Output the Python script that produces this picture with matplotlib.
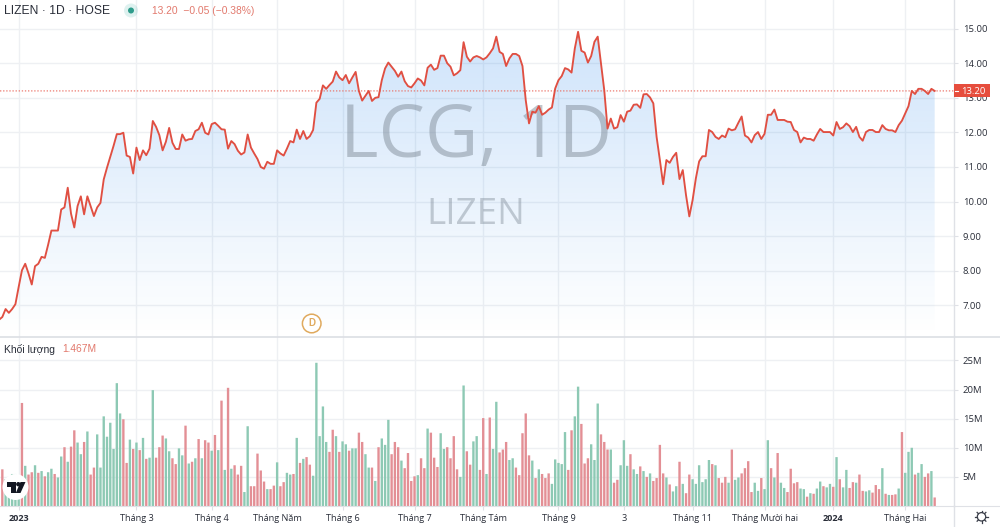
import numpy as np
import matplotlib
matplotlib.use("Agg")
import matplotlib.pyplot as plt
from matplotlib.patches import Circle, Polygon, Rectangle
from matplotlib.ticker import FuncFormatter

title_left = "LIZEN · 1D · HOSE"
title_right = "13.20  −0.05 (−0.38%)"
pane_title = "Khối lượng"
pane_value = "1.467M"
watermark_main = "LCG, 1D"
watermark_sub = "LIZEN"
last_price = 13.20

tick_index = [5, 41, 64, 84, 104, 126, 147, 170, 190, 211, 233, 254, 276]
tick_labels = ["2023", "Tháng 3", "Tháng 4", "Tháng Năm", "Tháng 6", "Tháng 7", "Tháng Tám",
               "Tháng 9", "3", "Tháng 11", "Tháng Mười hai", "2024", "Tháng Hai"]
bold_labels = ["2023", "2024"]

price_ticks = [7, 8, 9, 10, 11, 12, 13, 14, 15]
volume_ticks = [5, 10, 15, 20, 25]

# first value sits one session left of the first volume bar
price = [6.58,
 6.66, 6.89, 6.78, 6.89, 7.03, 7.53, 8.01, 8.20, 7.92, 7.60,
 8.13, 8.20, 8.40, 8.37, 8.75, 9.16, 9.16, 9.16, 9.77, 9.83,
 10.40, 9.65, 9.25, 9.87, 10.15, 9.63, 10.15, 9.87, 9.58, 9.83,
 9.96, 10.64, 10.98, 11.29, 11.61, 11.95, 11.95, 11.99, 11.33, 11.29,
 10.81, 11.56, 11.20, 11.48, 11.34, 11.53, 12.33, 12.16, 11.92, 11.48,
 11.73, 12.13, 11.70, 11.52, 11.52, 11.94, 11.76, 11.80, 11.81, 12.04,
 12.09, 12.28, 11.99, 11.94, 12.24, 12.28, 12.19, 12.09, 12.08, 11.53,
 11.75, 11.66, 11.47, 11.36, 11.42, 11.94, 11.56, 11.39, 11.23, 11.00,
 10.95, 11.15, 11.09, 11.09, 11.48, 11.39, 11.33, 11.53, 11.75, 11.71,
 12.08, 11.81, 12.04, 11.81, 11.89, 12.07, 12.86, 12.97, 13.36, 13.26,
 13.37, 13.47, 13.76, 13.59, 13.51, 13.66, 13.42, 13.59, 13.75, 13.20,
 12.92, 13.06, 13.20, 12.91, 13.00, 13.02, 13.51, 13.85, 14.02, 13.90,
 13.78, 13.61, 13.76, 13.48, 13.34, 13.30, 13.42, 13.56, 13.50, 13.36,
 13.87, 13.96, 13.81, 13.86, 14.22, 14.22, 14.00, 13.90, 13.65, 13.71,
 13.80, 14.61, 14.19, 14.05, 14.17, 14.21, 14.17, 14.11, 14.17, 14.29,
 14.43, 14.77, 14.33, 14.27, 13.92, 14.14, 14.27, 14.27, 14.21, 13.92,
 12.93, 12.26, 12.60, 12.57, 12.76, 12.51, 12.57, 12.66, 12.72, 13.27,
 13.51, 13.63, 13.86, 13.82, 13.73, 14.43, 14.91, 14.36, 14.31, 14.02,
 14.21, 14.62, 14.77, 14.00, 13.22, 12.11, 12.40, 12.11, 12.15, 12.50,
 12.31, 12.60, 12.63, 12.80, 12.81, 12.71, 13.10, 13.11, 13.01, 12.84,
 11.87, 11.20, 10.50, 11.20, 11.12, 11.29, 11.41, 10.65, 10.91, 10.18,
 9.57, 10.04, 10.67, 11.16, 11.31, 11.31, 12.07, 12.01, 11.87, 11.81,
 11.91, 11.86, 12.11, 12.06, 12.09, 12.28, 12.46, 11.91, 11.85, 11.71,
 11.92, 12.01, 11.81, 11.96, 12.51, 12.51, 12.66, 12.36, 12.36, 12.36,
 12.31, 12.30, 12.07, 12.01, 11.71, 11.85, 11.81, 11.81, 11.76, 11.94,
 12.10, 12.01, 12.01, 12.01, 11.91, 12.30, 12.10, 12.15, 12.26, 12.18,
 12.01, 12.16, 11.87, 11.76, 12.01, 12.07, 12.07, 12.01, 12.01, 12.21,
 12.10, 12.06, 12.06, 12.01, 12.21, 12.34, 12.55, 12.76, 13.20, 13.11,
 13.26, 13.26, 13.20, 13.11, 13.26, 13.20]

volume = [
 6.3, 4.6, 5.0, 5.5, 5.5, 5.0, 17.7, 6.9, 5.4, 5.8,
 7.0, 5.7, 6.0, 5.1, 5.8, 6.4, 5.5, 4.9, 8.5, 10.1,
 7.6, 10.2, 13.0, 10.9, 8.9, 11.0, 12.8, 5.4, 6.6, 12.3,
 6.6, 15.4, 11.9, 14.3, 9.8, 21.1, 15.9, 14.9, 7.4, 11.4,
 9.8, 10.9, 9.6, 11.7, 8.1, 8.3, 19.9, 8.3, 10.1, 12.1,
 11.6, 9.4, 8.2, 7.2, 9.9, 8.7, 13.8, 7.3, 7.6, 8.2,
 11.5, 8.2, 11.3, 10.9, 9.5, 12.2, 9.6, 18.1, 6.2, 20.3,
 6.4, 7.0, 5.4, 6.9, 2.4, 13.7, 3.4, 3.4, 9.0, 6.1,
 4.2, 2.9, 2.9, 3.5, 7.5, 3.4, 4.1, 5.7, 5.4, 5.5,
 11.7, 7.4, 8.1, 8.4, 7.1, 5.2, 24.6, 12.0, 17.1, 11.0,
 9.3, 13.1, 12.0, 9.3, 11.1, 10.6, 9.5, 9.9, 9.9, 12.6,
 11.0, 8.9, 6.6, 6.6, 4.3, 10.1, 11.6, 10.5, 14.8, 8.9,
 11.0, 10.1, 7.8, 6.5, 9.1, 4.3, 5.1, 5.3, 8.2, 6.5,
 13.3, 12.6, 8.3, 6.7, 12.5, 9.8, 10.1, 8.2, 12.0, 6.3,
 5.0, 20.7, 9.4, 7.1, 11.1, 12.0, 6.2, 15.1, 5.5, 15.2,
 9.8, 17.9, 9.2, 9.7, 11.0, 7.9, 8.2, 6.6, 5.3, 12.5,
 15.9, 8.7, 7.8, 4.8, 6.3, 5.5, 4.8, 5.6, 3.8, 8.0,
 7.4, 7.2, 12.7, 6.2, 13.0, 15.4, 20.5, 14.1, 7.3, 8.2,
 10.6, 7.9, 17.6, 12.3, 11.0, 9.7, 9.7, 4.0, 4.5, 7.0,
 11.3, 6.9, 8.9, 6.3, 5.5, 6.8, 6.0, 5.0, 5.6, 4.3,
 4.8, 10.5, 5.6, 4.9, 3.7, 2.5, 3.4, 7.6, 3.8, 2.2,
 5.4, 4.6, 3.8, 7.0, 4.1, 4.6, 7.9, 7.2, 7.0, 4.8,
 4.0, 5.0, 4.0, 9.7, 4.5, 4.9, 5.6, 6.5, 7.7, 2.4,
 4.0, 2.6, 4.8, 2.9, 11.3, 6.5, 4.9, 9.1, 4.0, 3.1,
 2.4, 6.4, 3.9, 4.1, 3.0, 2.9, 1.6, 2.2, 2.1, 3.0,
 4.2, 3.4, 3.2, 3.8, 3.3, 8.4, 4.6, 3.2, 6.2, 3.1,
 4.1, 4.0, 5.4, 2.6, 2.5, 2.7, 2.3, 3.6, 2.9, 6.5,
 2.1, 1.9, 1.9, 2.0, 3.0, 12.7, 5.7, 9.3, 10.0, 5.4,
 5.7, 7.2, 5.0, 5.6, 6.0, 1.467]

# one letter per bar: g = up session, r = down session
volume_direction = (
 "rgggggrgrr" "grgrggrggr" "grrggrgrrg" "gggggggrrg" "rgrgrggrrr"
 "ggrrggrgrg" "rgrrgrgrgr" "grrrggrrrr" "rgrrgrrggr" "grgrrggggg"
 "rrgrggrggr" "rggrgrgggr" "rrgrrrrgrr" "grrrggrrrr" "ggrrggrrgr"
 "ggrrrggrrr" "rrgrgrrrgg" "gggrrggrrr" "gggrrrgrrg" "ggrggrgrgr"
 "rrrgrggrgr" "rggggggrgr" "rrgrggrrrr" "ggrggrgrgg" "rrrrggrgrg"
 "grggrgrggr" "rgrrggrrrg" "rgrrgrgggr" "ggrrgr"
)

RED = "#e2796d"
LINE_RED = "#e04f42"
VOL_RED = "#e38f95"
VOL_GREEN = "#8dc9b4"
GRID = "#eef0f3"
BORDER = "#dfe1e6"
TEXT = "#2a2e39"
TICK_FONT = ["Open Sans", "DejaVu Sans"]

plt.rcParams["font.family"] = ["Liberation Sans", "DejaVu Sans"]

W, H = 1000, 527
fig = plt.figure(figsize=(W / 100, H / 100), dpi=100, facecolor="white")


def pane(top, bottom, right=954):
    return fig.add_axes([0, 1 - bottom / H, right / W, (bottom - top) / H])


X_LEFT = -0.71
X_RIGHT = X_LEFT + 954 / 3.2714
ax_p = pane(0, 336)
ax_v = pane(336, 506)

for ax in (ax_p, ax_v):
    ax.set_xlim(X_LEFT, X_RIGHT)
    ax.set_xticks(tick_index)
    ax.grid(True, color=GRID, lw=1.0, zorder=0)
    ax.set_axisbelow(True)
    for side in ("top", "left", "bottom"):
        ax.spines[side].set_visible(False)
    ax.spines["right"].set_color(BORDER)
    ax.spines["right"].set_linewidth(1.0)
    ax.yaxis.tick_right()
    ax.tick_params(axis="y", length=3, color=BORDER, labelsize=6.8, labelcolor=TEXT, pad=3.2)

# overlay in pixel coordinates ----------------------------------------------
top = fig.add_axes([0, 0, 1, 1], facecolor="none", zorder=5)
top.set_xlim(0, W)
top.set_ylim(H, 0)
top.axis("off")

# price pane ---------------------------------------------------------------
ax_p.set_ylim(6.11, 15.83)
ax_p.set_yticks(price_ticks)
ax_p.yaxis.set_major_formatter(FuncFormatter(lambda v, _: f"{v:.2f}"))
ax_p.tick_params(axis="x", length=0, labelbottom=False)
for lab in ax_p.get_yticklabels():
    lab.set_family(TICK_FONT)
px = np.arange(len(price)) - 1

ymin, ymax = ax_p.get_ylim()
grad = np.zeros((256, 1, 4))
grad[..., 0] = 33 / 255
grad[..., 1] = 130 / 255
grad[..., 2] = 235 / 255
grad[..., 3] = np.linspace(0.22, 0.0, 256)[:, None]
im = ax_p.imshow(grad, extent=[X_LEFT, X_RIGHT, ymin, 15.0], aspect="auto", zorder=1,
                 interpolation="bilinear", origin="upper")
ax_p.set_xlim(X_LEFT, X_RIGHT)
ax_p.set_ylim(ymin, ymax)
clip = ax_p.fill_between(px, price, ymin, color="none", lw=0)
im.set_clip_path(clip.get_paths()[0], transform=ax_p.transData)

ax_p.text(476, 157, watermark_main, transform=top.transData, fontsize=53, family="Open Sans",
          color="#7d8995", alpha=0.48, ha="center", va="baseline", zorder=2)
ax_p.text(475.5, 224, watermark_sub, transform=top.transData, fontsize=26.5, family="Open Sans",
          color="#7d8995", alpha=0.42, ha="center", va="baseline", zorder=2)

ax_p.axhline(last_price, color="#ea6a5e", lw=0.8, ls=(0, (1.2, 1.6)), zorder=3, snap=False)
ax_p.plot(px, price, color=LINE_RED, lw=1.35, zorder=4, solid_joinstyle="round")

# volume pane --------------------------------------------------------------
ax_v.set_ylim(0, 29.2)
ax_v.set_yticks(volume_ticks)
ax_v.yaxis.set_major_formatter(FuncFormatter(lambda v, _: f"{int(v)}M"))
ax_v.tick_params(axis="x", length=3, color=BORDER, labelsize=6.6, labelcolor=TEXT, pad=2.6)
ax_v.set_xticklabels(tick_labels)
for lab in ax_v.get_yticklabels():
    lab.set_family(TICK_FONT)
for lab in ax_v.get_xticklabels():
    lab.set_family(TICK_FONT)
    if lab.get_text() in bold_labels:
        lab.set_fontweight("bold")
vx = np.arange(len(volume))
colors = [VOL_GREEN if d == "g" else VOL_RED for d in volume_direction]
bars = ax_v.bar(vx, volume, width=0.72, color=colors, lw=0, zorder=2)
for b in bars:
    b.set_snap(False)
ax_v.spines["bottom"].set_visible(True)
ax_v.spines["bottom"].set_color(BORDER)

# divider and stubs below the axis
top.plot([0, 1000], [336.5, 336.5], color="#dcdfe4", lw=1.2)
top.plot([954, 1000], [506, 506], color=BORDER, lw=0.8)
top.plot([954, 954], [506, 527], color=BORDER, lw=1.0)

# header
top.text(4, 10.5, title_left, fontsize=8.75, color=TEXT, va="center", ha="left")
top.add_patch(Circle((131, 10.5), 7, color="#26a69a", alpha=0.15, lw=0))
top.add_patch(Circle((131, 10.5), 3, color="#2f9c8b", lw=0))
top.text(151.5, 11, title_right, fontsize=7.35, color=RED, va="center", ha="left")
top.text(4, 349.5, pane_title, fontsize=7.5, color=TEXT, va="center", ha="left")
top.text(62.5, 349.5, pane_value, fontsize=7.4, color=RED, va="center", ha="left")

# last price label
top.add_patch(Rectangle((954, 84), 36, 13.4, color="#e64d3d", lw=0))
top.plot([955, 958], [90.7, 90.7], color="white", lw=0.8)
top.text(973.5, 91, "13.20", fontsize=6.8, family=TICK_FONT, color="white", va="center", ha="center")

# dividend marker
top.add_patch(Circle((311.7, 323.5), 9.3, fc="white", ec="#e0aa5e", lw=1.1))
top.text(311.7, 323.5, "D", fontsize=7, color="#e0aa5e", weight="bold", ha="center", va="center")

# logo
top.add_patch(Circle((15.5, 487), 13, fc="white", ec="none"))
top.add_patch(Polygon([(7, 482), (15.5, 482), (15.5, 493), (11, 493), (11, 486.5), (7, 486.5)], fc="#131722", lw=0))
top.add_patch(Circle((18.3, 484.2), 2.2, fc="#131722", lw=0))
top.add_patch(Polygon([(20.5, 482), (25.5, 482), (20.5, 493), (15.8, 493)], fc="#131722", lw=0))

# gear
gear_c = (981.5, 516.8)
top.add_patch(Circle(gear_c, 4.2, fc="none", ec="#3a3e49", lw=0.9))
for a in np.arange(0, 2 * np.pi, np.pi / 4):
    top.plot([gear_c[0] + 4.4 * np.cos(a), gear_c[0] + 6.2 * np.cos(a)],
             [gear_c[1] + 4.4 * np.sin(a), gear_c[1] + 6.2 * np.sin(a)],
             color="#3a3e49", lw=0.9)

fig.savefig("out.png", dpi=100)
